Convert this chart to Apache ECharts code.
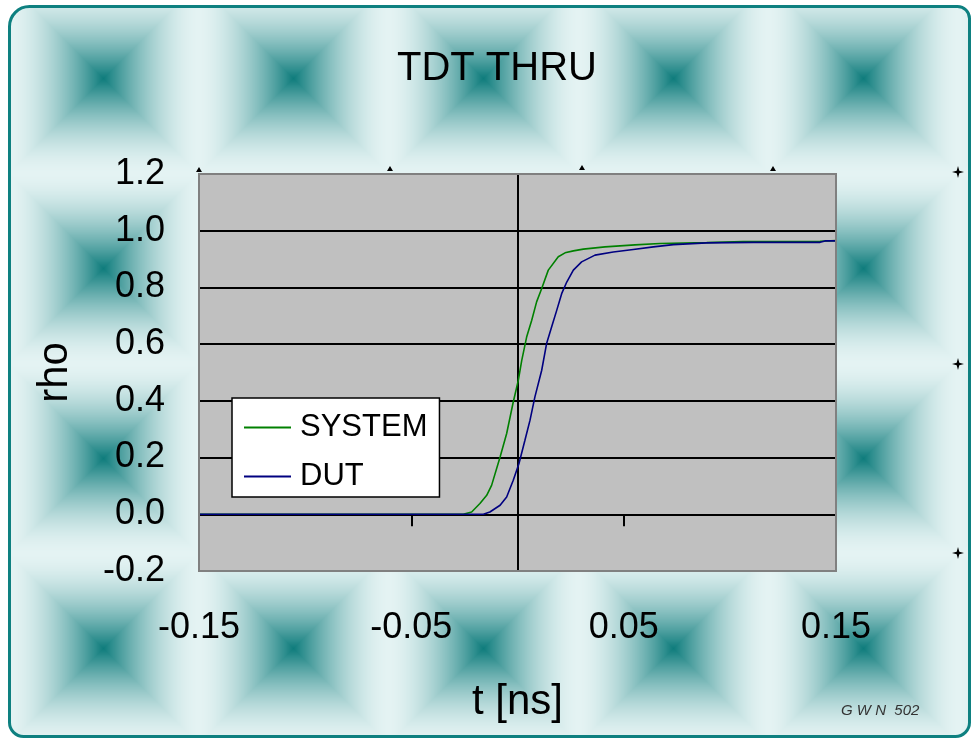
<!DOCTYPE html>
<html>
<head>
<meta charset="utf-8">
<script src="https://cdn.jsdelivr.net/npm/echarts@6/dist/echarts.min.js"></script>
<style>
html,body{margin:0;padding:0;background:#ffffff;}
#chart{width:974px;height:740px;}
</style>
</head>
<body>
<div id="chart"></div>
<script>
// ---- data ----
const chartTitle = 'TDT THRU';
const xName = 't [ns]';
const yName = 'rho';
const seriesNames = ['SYSTEM', 'DUT'];
const xMin = -0.15, xMax = 0.15, xStep = 0.1;
const yMin = -0.2, yMax = 1.2, yStep = 0.2;

const tSys = [-0.15, -0.0255, -0.0216, -0.0177, -0.0145, -0.0122, -0.0082, -0.0051, -0.0020, 0.0004, 0.0020, 0.0043, 0.0067, 0.0090, 0.0114, 0.0145, 0.0192, 0.0224, 0.0263, 0.0310, 0.0412, 0.0553, 0.0671, 0.0891, 0.1063, 0.1425, 0.15];
const rhoSys = [0, 0, 0.008, 0.038, 0.067, 0.102, 0.202, 0.285, 0.396, 0.473, 0.543, 0.625, 0.684, 0.749, 0.796, 0.861, 0.908, 0.922, 0.929, 0.935, 0.943, 0.950, 0.955, 0.958, 0.962, 0.963, 0.965];

const tDut = [-0.15, -0.0161, -0.0130, -0.0082, -0.0051, -0.0020, 0.0007, 0.0035, 0.0059, 0.0082, 0.0114, 0.0137, 0.0161, 0.0185, 0.0208, 0.0232, 0.0263, 0.0302, 0.0365, 0.0451, 0.0545, 0.0640, 0.0734, 0.0891, 0.1110, 0.1425, 0.1448, 0.15];
const rhoDut = [0, 0, 0.008, 0.032, 0.061, 0.120, 0.179, 0.261, 0.332, 0.414, 0.508, 0.602, 0.661, 0.720, 0.778, 0.819, 0.861, 0.890, 0.914, 0.925, 0.934, 0.943, 0.951, 0.957, 0.959, 0.959, 0.964, 0.964];

// ---- background tile (decoration) ----
function makeTile() {
  const S = 190, cx = 103, cy = 78;
  const c = document.createElement('canvas');
  c.width = S; c.height = S;
  const ctx = c.getContext('2d');
  const img = ctx.createImageData(S, S);
  const dark = [14, 124, 124], light = [228, 243, 243];
  for (let y = 0; y < S; y++) {
    for (let x = 0; x < S; x++) {
      let dx = ((x - cx) % S + S + S / 2) % S - S / 2;
      let dy = ((y - cy) % S + S + S / 2) % S - S / 2;
      let d = Math.max(Math.abs(dx), Math.abs(dy)) / (S / 2);
      if (d > 1) d = 1;
      const f = 1 - Math.pow(1 - d, 1.7);
      const i = (y * S + x) * 4;
      for (let k = 0; k < 3; k++) img.data[i + k] = Math.round(dark[k] + (light[k] - dark[k]) * f);
      img.data[i + 3] = 255;
    }
  }
  ctx.putImageData(img, 0, 0);
  return c;
}
const tile = makeTile();

const FONT = "'Liberation Sans', Arial, sans-serif";

function pairs(xs, ys) { return xs.map((x, i) => [x, ys[i]]); }

function sparkle(id, x, y) {
  return {
    id: id, type: 'polygon', z: 50,
    shape: { points: [[x, y - 6], [x + 1.3, y - 1.3], [x + 6, y], [x + 1.3, y + 1.3], [x, y + 6], [x - 1.3, y + 1.3], [x - 6, y], [x - 1.3, y - 1.3]] },
    style: { fill: '#000' }
  };
}
function topMark(id, x, y) {
  return {
    id: id, type: 'polygon', z: 50,
    shape: { points: [[x, y - 5], [x + 3, y], [x - 3, y]] },
    style: { fill: '#000' }
  };
}

const chart = echarts.init(document.getElementById('chart'), null, { renderer: 'canvas' });

const option = {
  animation: false,
  backgroundColor: '#ffffff',
  title: {
    text: chartTitle,
    left: 397, top: 49, padding: 0,
    textStyle: { fontFamily: FONT, fontSize: 40, fontWeight: 'normal', color: '#000' }
  },
  legend: {
    data: seriesNames,
    orient: 'vertical',
    left: 232, top: 398,
    backgroundColor: '#ffffff',
    borderColor: '#000000', borderWidth: 1.5,
    padding: [14, 12, 5, 12],
    itemGap: 18,
    itemWidth: 47, itemHeight: 2,
    icon: 'rect',
    selectedMode: false,
    textStyle: { fontFamily: FONT, fontSize: 31, color: '#000', padding: [0, 0, 0, 4] }
  },
  grid: {
    left: 199, top: 174, width: 637, height: 397,
    show: true, backgroundColor: '#c0c0c0', borderColor: '#808080', borderWidth: 2
  },
  xAxis: [
    {
      type: 'value', min: xMin, max: xMax, interval: xStep,
      axisLine: { show: true, onZero: true, lineStyle: { color: '#000', width: 2 } },
      axisTick: { show: true, length: 12, lineStyle: { color: '#000', width: 2 } },
      axisLabel: { show: false },
      splitLine: { show: false }
    },
    {
      type: 'value', min: xMin, max: xMax, interval: xStep, position: 'bottom',
      axisLine: { show: false, onZero: false },
      axisTick: { show: false },
      axisLabel: { show: true, margin: 39, fontFamily: FONT, fontSize: 36, color: '#000', formatter: v => v.toFixed(2) },
      splitLine: { show: false },
      name: xName, nameLocation: 'middle', nameGap: 110,
      nameTextStyle: { fontFamily: FONT, fontSize: 42, color: '#000' }
    }
  ],
  yAxis: [
    {
      type: 'value', min: yMin, max: yMax, interval: yStep,
      axisLine: { show: true, onZero: true, lineStyle: { color: '#000', width: 2 } },
      axisTick: { show: true, length: 11, lineStyle: { color: '#000', width: 2 } },
      axisLabel: { show: false },
      splitLine: { show: false }
    },
    {
      type: 'value', min: yMin, max: yMax, interval: yStep, position: 'left',
      axisLine: { show: false, onZero: false },
      axisTick: { show: false },
      axisLabel: { show: true, margin: 34, padding: [6, 0, 0, 0], fontFamily: FONT, fontSize: 36, color: '#000', formatter: v => v.toFixed(1) },
      splitLine: { show: true, lineStyle: { color: '#000', width: 2 } },
      name: yName, nameLocation: 'middle', nameGap: 123,
      nameTextStyle: { fontFamily: FONT, fontSize: 42, color: '#000' }
    }
  ],
  graphic: {
    elements: [
      {
        id: 'frame', type: 'rect', z: -10,
        shape: { x: 9.5, y: 6.5, width: 960, height: 730, r: [20, 12, 14, 14] },
        style: { fill: { image: tile, repeat: 'repeat' }, stroke: '#0e8080', lineWidth: 3 }
      },
      {
        id: 'sig', type: 'text', z: 50, left: 841, top: 703,
        style: { text: 'G W N  502', font: "italic 15px 'Liberation Sans', Arial, sans-serif", fill: '#333' }
      },
      sparkle('s1', 958, 172), sparkle('s2', 958, 364), sparkle('s3', 958, 553),
      topMark('m1', 199, 172), topMark('m2', 390, 171), topMark('m3', 582, 170), topMark('m4', 773, 171)
    ]
  },
  series: [
    {
      name: seriesNames[0], type: 'line', xAxisIndex: 0, yAxisIndex: 0,
      data: pairs(tSys, rhoSys), showSymbol: false, symbol: 'none',
      lineStyle: { color: '#008000', width: 1.6 }, itemStyle: { color: '#008000' }, z: 3
    },
    {
      name: seriesNames[1], type: 'line', xAxisIndex: 0, yAxisIndex: 0,
      data: pairs(tDut, rhoDut), showSymbol: false, symbol: 'none',
      lineStyle: { color: '#000080', width: 1.6 }, itemStyle: { color: '#000080' }, z: 3
    }
  ]
};
chart.setOption(option);

// gray plot border drawn over the gridlines at the plot edges
const pA = chart.convertToPixel({ xAxisIndex: 0, yAxisIndex: 0 }, [xMin, yMax]);
const pB = chart.convertToPixel({ xAxisIndex: 0, yAxisIndex: 0 }, [xMax, yMin]);
chart.setOption({
  graphic: {
    elements: [{
      id: 'plotBorder', type: 'rect', z: 20, silent: true,
      shape: { x: pA[0], y: pA[1], width: pB[0] - pA[0], height: pB[1] - pA[1] },
      style: { fill: null, stroke: '#808080', lineWidth: 2 }
    }]
  }
});
</script>
</body>
</html>
